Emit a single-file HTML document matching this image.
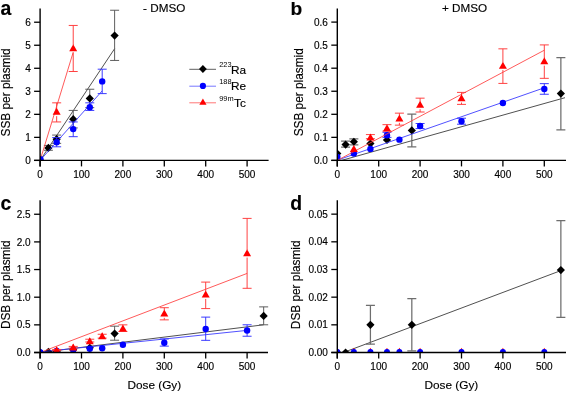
<!DOCTYPE html><html><head><meta charset="utf-8"><style>html,body{margin:0;padding:0;background:#fff;width:567px;height:393px;overflow:hidden}svg{display:block;will-change:transform}</style></head><body><svg width="567" height="393" viewBox="0 0 567 393" font-family='"Liberation Sans", sans-serif' fill="#000"><style>text{stroke:#000;stroke-width:0.15px}</style>
<rect width="567" height="393" fill="#fff"/>
<clipPath id="ca"><rect x="40.1" y="8.6" width="236.50000000000003" height="151.8"/></clipPath>
<g clip-path="url(#ca)">
<line x1="40.10" y1="160.40" x2="114.62" y2="48.70" stroke="#303030" stroke-width="0.85"/>
<line x1="48.38" y1="145.43" x2="48.38" y2="150.27" stroke="#555555" stroke-width="0.95"/><line x1="43.88" y1="145.43" x2="52.88" y2="145.43" stroke="#555555" stroke-width="0.95"/><line x1="43.88" y1="150.27" x2="52.88" y2="150.27" stroke="#555555" stroke-width="0.95"/>
<line x1="56.66" y1="135.07" x2="56.66" y2="143.36" stroke="#555555" stroke-width="0.95"/><line x1="52.16" y1="135.07" x2="61.16" y2="135.07" stroke="#555555" stroke-width="0.95"/><line x1="52.16" y1="143.36" x2="61.16" y2="143.36" stroke="#555555" stroke-width="0.95"/>
<line x1="73.22" y1="110.42" x2="73.22" y2="127.93" stroke="#555555" stroke-width="0.95"/><line x1="68.72" y1="110.42" x2="77.72" y2="110.42" stroke="#555555" stroke-width="0.95"/><line x1="68.72" y1="127.93" x2="77.72" y2="127.93" stroke="#555555" stroke-width="0.95"/>
<line x1="89.78" y1="89.24" x2="89.78" y2="107.66" stroke="#555555" stroke-width="0.95"/><line x1="85.28" y1="89.24" x2="94.28" y2="89.24" stroke="#555555" stroke-width="0.95"/><line x1="85.28" y1="107.66" x2="94.28" y2="107.66" stroke="#555555" stroke-width="0.95"/>
<line x1="114.62" y1="10.24" x2="114.62" y2="60.45" stroke="#555555" stroke-width="0.95"/><line x1="110.12" y1="10.24" x2="119.12" y2="10.24" stroke="#555555" stroke-width="0.95"/><line x1="110.12" y1="60.45" x2="119.12" y2="60.45" stroke="#555555" stroke-width="0.95"/>
<path d="M40.10 156.30L44.20 160.40L40.10 164.50L36.00 160.40Z" fill="#000"/>
<path d="M48.38 143.86L52.48 147.96L48.38 152.06L44.28 147.96Z" fill="#000"/>
<path d="M56.66 135.11L60.76 139.21L56.66 143.31L52.56 139.21Z" fill="#000"/>
<path d="M73.22 115.08L77.32 119.18L73.22 123.28L69.12 119.18Z" fill="#000"/>
<path d="M89.78 94.35L93.88 98.45L89.78 102.55L85.68 98.45Z" fill="#000"/>
<path d="M114.62 31.48L118.72 35.58L114.62 39.68L110.52 35.58Z" fill="#000"/>
</g>
<g clip-path="url(#ca)">
<line x1="40.10" y1="160.40" x2="102.20" y2="90.85" stroke="#3232ff" stroke-width="0.85"/>
<line x1="56.66" y1="137.60" x2="56.66" y2="146.81" stroke="#2f2fff" stroke-width="0.95"/><line x1="52.16" y1="137.60" x2="61.16" y2="137.60" stroke="#2f2fff" stroke-width="0.95"/><line x1="52.16" y1="146.81" x2="61.16" y2="146.81" stroke="#2f2fff" stroke-width="0.95"/>
<line x1="73.22" y1="121.94" x2="73.22" y2="136.68" stroke="#2f2fff" stroke-width="0.95"/><line x1="68.72" y1="121.94" x2="77.72" y2="121.94" stroke="#2f2fff" stroke-width="0.95"/><line x1="68.72" y1="136.68" x2="77.72" y2="136.68" stroke="#2f2fff" stroke-width="0.95"/>
<line x1="89.78" y1="102.83" x2="89.78" y2="110.42" stroke="#2f2fff" stroke-width="0.95"/><line x1="85.28" y1="102.83" x2="94.28" y2="102.83" stroke="#2f2fff" stroke-width="0.95"/><line x1="85.28" y1="110.42" x2="94.28" y2="110.42" stroke="#2f2fff" stroke-width="0.95"/>
<line x1="102.20" y1="69.20" x2="102.20" y2="93.61" stroke="#2f2fff" stroke-width="0.95"/><line x1="97.70" y1="69.20" x2="106.70" y2="69.20" stroke="#2f2fff" stroke-width="0.95"/><line x1="97.70" y1="93.61" x2="106.70" y2="93.61" stroke="#2f2fff" stroke-width="0.95"/>
<circle cx="40.10" cy="160.40" r="3.2" fill="#0000ff"/>
<circle cx="56.66" cy="142.21" r="3.2" fill="#0000ff"/>
<circle cx="73.22" cy="129.08" r="3.2" fill="#0000ff"/>
<circle cx="89.78" cy="107.20" r="3.2" fill="#0000ff"/>
<circle cx="102.20" cy="81.41" r="3.2" fill="#0000ff"/>
</g>
<g clip-path="url(#ca)">
<line x1="40.10" y1="160.40" x2="73.22" y2="52.16" stroke="#ff3c3c" stroke-width="0.85"/>
<line x1="56.66" y1="102.83" x2="56.66" y2="108.58" stroke="#ff3838" stroke-width="0.95"/><line x1="56.66" y1="116.18" x2="56.66" y2="121.94" stroke="#ff3838" stroke-width="0.95"/><line x1="52.16" y1="102.83" x2="61.16" y2="102.83" stroke="#ff3838" stroke-width="0.95"/><line x1="52.16" y1="121.94" x2="61.16" y2="121.94" stroke="#ff3838" stroke-width="0.95"/>
<line x1="73.22" y1="25.44" x2="73.22" y2="45.01" stroke="#ff3838" stroke-width="0.95"/><line x1="73.22" y1="52.61" x2="73.22" y2="71.50" stroke="#ff3838" stroke-width="0.95"/><line x1="68.72" y1="25.44" x2="77.72" y2="25.44" stroke="#ff3838" stroke-width="0.95"/><line x1="68.72" y1="71.50" x2="77.72" y2="71.50" stroke="#ff3838" stroke-width="0.95"/>
<path d="M40.10 156.66L44.10 163.66L36.10 163.66Z" fill="#ff0000"/>
<path d="M56.66 107.83L60.66 114.83L52.66 114.83Z" fill="#ff0000"/>
<path d="M73.22 44.27L77.22 51.27L69.22 51.27Z" fill="#ff0000"/>
</g>
<g clip-path="url(#ca)">
<circle cx="40.10" cy="159.48" r="3.6" fill="#0000ff"/>
</g>
<clipPath id="cb"><rect x="337.3" y="8.6" width="236.7" height="151.8"/></clipPath>
<g clip-path="url(#cb)">
<line x1="337.30" y1="161.60" x2="565.00" y2="97.70" stroke="#303030" stroke-width="0.85"/>
<line x1="345.58" y1="141.04" x2="345.58" y2="147.03" stroke="#6e6e6e" stroke-width="1.25"/><line x1="341.08" y1="141.04" x2="350.08" y2="141.04" stroke="#6e6e6e" stroke-width="1.25"/><line x1="341.08" y1="147.03" x2="350.08" y2="147.03" stroke="#6e6e6e" stroke-width="1.25"/>
<line x1="353.86" y1="138.96" x2="353.86" y2="144.96" stroke="#6e6e6e" stroke-width="1.25"/><line x1="349.36" y1="138.96" x2="358.36" y2="138.96" stroke="#6e6e6e" stroke-width="1.25"/><line x1="349.36" y1="144.96" x2="358.36" y2="144.96" stroke="#6e6e6e" stroke-width="1.25"/>
<line x1="411.82" y1="114.07" x2="411.82" y2="146.89" stroke="#6e6e6e" stroke-width="1.25"/><line x1="407.32" y1="114.07" x2="416.32" y2="114.07" stroke="#6e6e6e" stroke-width="1.25"/><line x1="407.32" y1="146.89" x2="416.32" y2="146.89" stroke="#6e6e6e" stroke-width="1.25"/>
<line x1="560.86" y1="57.60" x2="560.86" y2="129.97" stroke="#6e6e6e" stroke-width="1.25"/><line x1="556.36" y1="57.60" x2="565.36" y2="57.60" stroke="#6e6e6e" stroke-width="1.25"/><line x1="556.36" y1="129.97" x2="565.36" y2="129.97" stroke="#6e6e6e" stroke-width="1.25"/>
<path d="M337.30 149.39L341.40 153.49L337.30 157.59L333.20 153.49Z" fill="#000"/>
<path d="M345.58 140.51L349.68 144.61L345.58 148.71L341.48 144.61Z" fill="#000"/>
<path d="M353.86 137.63L357.96 141.73L353.86 145.83L349.76 141.73Z" fill="#000"/>
<path d="M370.42 139.47L374.52 143.57L370.42 147.67L366.32 143.57Z" fill="#000"/>
<path d="M386.98 135.90L391.08 140.00L386.98 144.10L382.88 140.00Z" fill="#000"/>
<path d="M411.82 126.34L415.92 130.44L411.82 134.53L407.72 130.44Z" fill="#000"/>
<path d="M560.86 89.46L564.96 93.56L560.86 97.66L556.76 93.56Z" fill="#000"/>
</g>
<g clip-path="url(#cb)">
<line x1="337.30" y1="160.17" x2="544.30" y2="87.79" stroke="#3232ff" stroke-width="0.85"/>
<line x1="386.98" y1="132.28" x2="386.98" y2="137.35" stroke="#2f2fff" stroke-width="0.95"/><line x1="382.48" y1="132.28" x2="391.48" y2="132.28" stroke="#2f2fff" stroke-width="0.95"/><line x1="382.48" y1="137.35" x2="391.48" y2="137.35" stroke="#2f2fff" stroke-width="0.95"/>
<line x1="420.10" y1="123.52" x2="420.10" y2="128.59" stroke="#2f2fff" stroke-width="0.95"/><line x1="415.60" y1="123.52" x2="424.60" y2="123.52" stroke="#2f2fff" stroke-width="0.95"/><line x1="415.60" y1="128.59" x2="424.60" y2="128.59" stroke="#2f2fff" stroke-width="0.95"/>
<line x1="461.50" y1="118.22" x2="461.50" y2="124.21" stroke="#2f2fff" stroke-width="0.95"/><line x1="457.00" y1="118.22" x2="466.00" y2="118.22" stroke="#2f2fff" stroke-width="0.95"/><line x1="457.00" y1="124.21" x2="466.00" y2="124.21" stroke="#2f2fff" stroke-width="0.95"/>
<line x1="544.30" y1="83.64" x2="544.30" y2="94.25" stroke="#2f2fff" stroke-width="0.95"/><line x1="539.80" y1="83.64" x2="548.80" y2="83.64" stroke="#2f2fff" stroke-width="0.95"/><line x1="539.80" y1="94.25" x2="548.80" y2="94.25" stroke="#2f2fff" stroke-width="0.95"/>
<circle cx="337.30" cy="156.94" r="3.2" fill="#0000ff"/>
<circle cx="353.86" cy="153.60" r="3.2" fill="#0000ff"/>
<circle cx="370.42" cy="148.88" r="3.2" fill="#0000ff"/>
<circle cx="386.98" cy="135.28" r="3.2" fill="#0000ff"/>
<circle cx="399.40" cy="139.66" r="3.2" fill="#0000ff"/>
<circle cx="420.10" cy="126.06" r="3.2" fill="#0000ff"/>
<circle cx="461.50" cy="121.22" r="3.2" fill="#0000ff"/>
<circle cx="502.90" cy="103.01" r="3.2" fill="#0000ff"/>
<circle cx="544.30" cy="88.95" r="3.2" fill="#0000ff"/>
</g>
<g clip-path="url(#cb)">
<line x1="337.30" y1="160.40" x2="544.30" y2="50.22" stroke="#ff3c3c" stroke-width="0.85"/>
<line x1="370.42" y1="134.58" x2="370.42" y2="134.35" stroke="#ff3838" stroke-width="0.95"/><line x1="365.92" y1="134.58" x2="374.92" y2="134.58" stroke="#ff3838" stroke-width="0.95"/><line x1="365.92" y1="138.73" x2="374.92" y2="138.73" stroke="#ff3838" stroke-width="0.95"/>
<line x1="386.98" y1="124.67" x2="386.98" y2="124.90" stroke="#ff3838" stroke-width="0.95"/><line x1="382.48" y1="124.67" x2="391.48" y2="124.67" stroke="#ff3838" stroke-width="0.95"/><line x1="382.48" y1="131.13" x2="391.48" y2="131.13" stroke="#ff3838" stroke-width="0.95"/>
<line x1="399.40" y1="113.15" x2="399.40" y2="115.22" stroke="#ff3838" stroke-width="0.95"/><line x1="399.40" y1="122.82" x2="399.40" y2="125.13" stroke="#ff3838" stroke-width="0.95"/><line x1="394.90" y1="113.15" x2="403.90" y2="113.15" stroke="#ff3838" stroke-width="0.95"/><line x1="394.90" y1="125.13" x2="403.90" y2="125.13" stroke="#ff3838" stroke-width="0.95"/>
<line x1="420.10" y1="98.16" x2="420.10" y2="101.62" stroke="#ff3838" stroke-width="0.95"/><line x1="420.10" y1="109.22" x2="420.10" y2="112.00" stroke="#ff3838" stroke-width="0.95"/><line x1="415.60" y1="98.16" x2="424.60" y2="98.16" stroke="#ff3838" stroke-width="0.95"/><line x1="415.60" y1="112.00" x2="424.60" y2="112.00" stroke="#ff3838" stroke-width="0.95"/>
<line x1="461.50" y1="92.40" x2="461.50" y2="94.93" stroke="#ff3838" stroke-width="0.95"/><line x1="461.50" y1="102.53" x2="461.50" y2="104.39" stroke="#ff3838" stroke-width="0.95"/><line x1="457.00" y1="92.40" x2="466.00" y2="92.40" stroke="#ff3838" stroke-width="0.95"/><line x1="457.00" y1="104.39" x2="466.00" y2="104.39" stroke="#ff3838" stroke-width="0.95"/>
<line x1="502.90" y1="48.84" x2="502.90" y2="62.43" stroke="#ff3838" stroke-width="0.95"/><line x1="502.90" y1="70.03" x2="502.90" y2="83.41" stroke="#ff3838" stroke-width="0.95"/><line x1="498.40" y1="48.84" x2="507.40" y2="48.84" stroke="#ff3838" stroke-width="0.95"/><line x1="498.40" y1="83.41" x2="507.40" y2="83.41" stroke="#ff3838" stroke-width="0.95"/>
<line x1="544.30" y1="44.92" x2="544.30" y2="58.05" stroke="#ff3838" stroke-width="0.95"/><line x1="544.30" y1="65.65" x2="544.30" y2="78.34" stroke="#ff3838" stroke-width="0.95"/><line x1="539.80" y1="44.92" x2="548.80" y2="44.92" stroke="#ff3838" stroke-width="0.95"/><line x1="539.80" y1="78.34" x2="548.80" y2="78.34" stroke="#ff3838" stroke-width="0.95"/>
<path d="M353.86 144.90L357.86 151.90L349.86 151.90Z" fill="#ff0000"/>
<path d="M370.42 133.60L374.42 140.60L366.42 140.60Z" fill="#ff0000"/>
<path d="M386.98 124.15L390.98 131.15L382.98 131.15Z" fill="#ff0000"/>
<path d="M399.40 114.47L403.40 121.47L395.40 121.47Z" fill="#ff0000"/>
<path d="M420.10 100.87L424.10 107.87L416.10 107.87Z" fill="#ff0000"/>
<path d="M461.50 94.19L465.50 101.19L457.50 101.19Z" fill="#ff0000"/>
<path d="M502.90 61.69L506.90 68.69L498.90 68.69Z" fill="#ff0000"/>
<path d="M544.30 57.31L548.30 64.31L540.30 64.31Z" fill="#ff0000"/>
</g>
<clipPath id="cc"><rect x="40.1" y="200.3" width="235.9" height="152.2"/></clipPath>
<g clip-path="url(#cc)">
<line x1="40.10" y1="352.50" x2="263.66" y2="324.79" stroke="#303030" stroke-width="0.85"/>
<line x1="114.62" y1="326.18" x2="114.62" y2="340.22" stroke="#555555" stroke-width="0.95"/><line x1="110.12" y1="326.18" x2="119.12" y2="326.18" stroke="#555555" stroke-width="0.95"/><line x1="110.12" y1="340.22" x2="119.12" y2="340.22" stroke="#555555" stroke-width="0.95"/>
<line x1="263.66" y1="306.88" x2="263.66" y2="324.79" stroke="#555555" stroke-width="0.95"/><line x1="259.16" y1="306.88" x2="268.16" y2="306.88" stroke="#555555" stroke-width="0.95"/><line x1="259.16" y1="324.79" x2="268.16" y2="324.79" stroke="#555555" stroke-width="0.95"/>
<path d="M40.10 348.40L44.20 352.50L40.10 356.60L36.00 352.50Z" fill="#000"/>
<path d="M48.38 347.85L52.48 351.95L48.38 356.05L44.28 351.95Z" fill="#000"/>
<path d="M56.66 347.29L60.76 351.39L56.66 355.49L52.56 351.39Z" fill="#000"/>
<path d="M73.22 345.63L77.32 349.74L73.22 353.84L69.12 349.74Z" fill="#000"/>
<path d="M89.78 343.70L93.88 347.80L89.78 351.90L85.68 347.80Z" fill="#000"/>
<path d="M114.62 329.43L118.72 333.53L114.62 337.63L110.52 333.53Z" fill="#000"/>
<path d="M263.66 311.85L267.76 315.95L263.66 320.05L259.56 315.95Z" fill="#000"/>
</g>
<g clip-path="url(#cc)">
<line x1="40.10" y1="351.95" x2="247.10" y2="330.38" stroke="#3232ff" stroke-width="0.85"/>
<line x1="164.30" y1="338.95" x2="164.30" y2="346.14" stroke="#2f2fff" stroke-width="0.95"/><line x1="159.80" y1="338.95" x2="168.80" y2="338.95" stroke="#2f2fff" stroke-width="0.95"/><line x1="159.80" y1="346.14" x2="168.80" y2="346.14" stroke="#2f2fff" stroke-width="0.95"/>
<line x1="205.70" y1="317.11" x2="205.70" y2="340.33" stroke="#2f2fff" stroke-width="0.95"/><line x1="201.20" y1="317.11" x2="210.20" y2="317.11" stroke="#2f2fff" stroke-width="0.95"/><line x1="201.20" y1="340.33" x2="210.20" y2="340.33" stroke="#2f2fff" stroke-width="0.95"/>
<line x1="247.10" y1="324.79" x2="247.10" y2="336.24" stroke="#2f2fff" stroke-width="0.95"/><line x1="242.60" y1="324.79" x2="251.60" y2="324.79" stroke="#2f2fff" stroke-width="0.95"/><line x1="242.60" y1="336.24" x2="251.60" y2="336.24" stroke="#2f2fff" stroke-width="0.95"/>
<circle cx="40.10" cy="352.50" r="3.2" fill="#0000ff"/>
<circle cx="56.66" cy="350.84" r="3.2" fill="#0000ff"/>
<circle cx="73.22" cy="349.74" r="3.2" fill="#0000ff"/>
<circle cx="89.78" cy="348.74" r="3.2" fill="#0000ff"/>
<circle cx="102.20" cy="348.24" r="3.2" fill="#0000ff"/>
<circle cx="122.90" cy="344.76" r="3.2" fill="#0000ff"/>
<circle cx="164.30" cy="342.82" r="3.2" fill="#0000ff"/>
<circle cx="205.70" cy="329.00" r="3.2" fill="#0000ff"/>
<circle cx="247.10" cy="330.49" r="3.2" fill="#0000ff"/>
</g>
<g clip-path="url(#cc)">
<line x1="40.10" y1="352.50" x2="247.10" y2="273.42" stroke="#ff3c3c" stroke-width="0.85"/>
<line x1="56.66" y1="349.46" x2="56.66" y2="347.01" stroke="#ff3838" stroke-width="0.95"/><line x1="52.16" y1="349.46" x2="61.16" y2="349.46" stroke="#ff3838" stroke-width="0.95"/><line x1="52.16" y1="350.56" x2="61.16" y2="350.56" stroke="#ff3838" stroke-width="0.95"/>
<line x1="73.22" y1="346.42" x2="73.22" y2="344.25" stroke="#ff3838" stroke-width="0.95"/><line x1="68.72" y1="346.42" x2="77.72" y2="346.42" stroke="#ff3838" stroke-width="0.95"/><line x1="68.72" y1="348.08" x2="77.72" y2="348.08" stroke="#ff3838" stroke-width="0.95"/>
<line x1="89.78" y1="339.23" x2="89.78" y2="337.89" stroke="#ff3838" stroke-width="0.95"/><line x1="85.28" y1="339.23" x2="94.28" y2="339.23" stroke="#ff3838" stroke-width="0.95"/><line x1="85.28" y1="341.99" x2="94.28" y2="341.99" stroke="#ff3838" stroke-width="0.95"/>
<line x1="102.20" y1="334.25" x2="102.20" y2="332.91" stroke="#ff3838" stroke-width="0.95"/><line x1="97.70" y1="334.25" x2="106.70" y2="334.25" stroke="#ff3838" stroke-width="0.95"/><line x1="97.70" y1="338.12" x2="106.70" y2="338.12" stroke="#ff3838" stroke-width="0.95"/>
<line x1="122.90" y1="324.85" x2="122.90" y2="325.17" stroke="#ff3838" stroke-width="0.95"/><line x1="118.40" y1="324.85" x2="127.40" y2="324.85" stroke="#ff3838" stroke-width="0.95"/><line x1="118.40" y1="331.49" x2="127.40" y2="331.49" stroke="#ff3838" stroke-width="0.95"/>
<line x1="164.30" y1="307.71" x2="164.30" y2="310.24" stroke="#ff3838" stroke-width="0.95"/><line x1="164.30" y1="317.84" x2="164.30" y2="319.87" stroke="#ff3838" stroke-width="0.95"/><line x1="159.80" y1="307.71" x2="168.80" y2="307.71" stroke="#ff3838" stroke-width="0.95"/><line x1="159.80" y1="319.87" x2="168.80" y2="319.87" stroke="#ff3838" stroke-width="0.95"/>
<line x1="205.70" y1="282.10" x2="205.70" y2="291.32" stroke="#ff3838" stroke-width="0.95"/><line x1="205.70" y1="298.92" x2="205.70" y2="308.59" stroke="#ff3838" stroke-width="0.95"/><line x1="201.20" y1="282.10" x2="210.20" y2="282.10" stroke="#ff3838" stroke-width="0.95"/><line x1="201.20" y1="308.59" x2="210.20" y2="308.59" stroke="#ff3838" stroke-width="0.95"/>
<line x1="247.10" y1="218.40" x2="247.10" y2="249.96" stroke="#ff3838" stroke-width="0.95"/><line x1="247.10" y1="257.56" x2="247.10" y2="288.30" stroke="#ff3838" stroke-width="0.95"/><line x1="242.60" y1="218.40" x2="251.60" y2="218.40" stroke="#ff3838" stroke-width="0.95"/><line x1="242.60" y1="288.30" x2="251.60" y2="288.30" stroke="#ff3838" stroke-width="0.95"/>
<path d="M40.10 348.75L44.10 355.75L36.10 355.75Z" fill="#ff0000"/>
<path d="M56.66 346.27L60.66 353.27L52.66 353.27Z" fill="#ff0000"/>
<path d="M73.22 343.50L77.22 350.50L69.22 350.50Z" fill="#ff0000"/>
<path d="M89.78 337.14L93.78 344.14L85.78 344.14Z" fill="#ff0000"/>
<path d="M102.20 332.17L106.20 339.17L98.20 339.17Z" fill="#ff0000"/>
<path d="M122.90 324.42L126.90 331.42L118.90 331.42Z" fill="#ff0000"/>
<path d="M164.30 309.49L168.30 316.49L160.30 316.49Z" fill="#ff0000"/>
<path d="M205.70 290.58L209.70 297.58L201.70 297.58Z" fill="#ff0000"/>
<path d="M247.10 249.22L251.10 256.22L243.10 256.22Z" fill="#ff0000"/>
</g>
<g clip-path="url(#cc)">
<circle cx="40.10" cy="352.50" r="3.3" fill="#0000ff"/>
</g>
<clipPath id="cd"><rect x="337.3" y="200.3" width="236.7" height="152.2"/></clipPath>
<g clip-path="url(#cd)">
<line x1="337.30" y1="354.80" x2="560.86" y2="270.60" stroke="#303030" stroke-width="0.85"/>
<line x1="370.42" y1="305.46" x2="370.42" y2="344.20" stroke="#6e6e6e" stroke-width="1.25"/><line x1="365.92" y1="305.46" x2="374.92" y2="305.46" stroke="#6e6e6e" stroke-width="1.25"/><line x1="365.92" y1="344.20" x2="374.92" y2="344.20" stroke="#6e6e6e" stroke-width="1.25"/>
<line x1="411.82" y1="298.54" x2="411.82" y2="350.84" stroke="#6e6e6e" stroke-width="1.25"/><line x1="407.32" y1="298.54" x2="416.32" y2="298.54" stroke="#6e6e6e" stroke-width="1.25"/><line x1="407.32" y1="350.84" x2="416.32" y2="350.84" stroke="#6e6e6e" stroke-width="1.25"/>
<line x1="560.86" y1="220.51" x2="560.86" y2="317.36" stroke="#6e6e6e" stroke-width="1.25"/><line x1="556.36" y1="220.51" x2="565.36" y2="220.51" stroke="#6e6e6e" stroke-width="1.25"/><line x1="556.36" y1="317.36" x2="565.36" y2="317.36" stroke="#6e6e6e" stroke-width="1.25"/>
<path d="M337.30 348.40L341.40 352.50L337.30 356.60L333.20 352.50Z" fill="#000"/>
<path d="M345.58 348.40L349.68 352.50L345.58 356.60L341.48 352.50Z" fill="#000"/>
<path d="M370.42 320.73L374.52 324.83L370.42 328.93L366.32 324.83Z" fill="#000"/>
<path d="M411.82 320.73L415.92 324.83L411.82 328.93L407.72 324.83Z" fill="#000"/>
<path d="M560.86 265.94L564.96 270.04L560.86 274.14L556.76 270.04Z" fill="#000"/>
</g>
<g clip-path="url(#cd)">
<path d="M337.30 347.86L341.30 354.86L333.30 354.86Z" fill="#ff0000"/>
<path d="M353.86 347.86L357.86 354.86L349.86 354.86Z" fill="#ff0000"/>
<path d="M370.42 347.86L374.42 354.86L366.42 354.86Z" fill="#ff0000"/>
<path d="M386.98 347.86L390.98 354.86L382.98 354.86Z" fill="#ff0000"/>
<path d="M399.40 347.86L403.40 354.86L395.40 354.86Z" fill="#ff0000"/>
<path d="M420.10 347.86L424.10 354.86L416.10 354.86Z" fill="#ff0000"/>
<path d="M461.50 347.86L465.50 354.86L457.50 354.86Z" fill="#ff0000"/>
<path d="M502.90 347.86L506.90 354.86L498.90 354.86Z" fill="#ff0000"/>
<path d="M544.30 347.86L548.30 354.86L540.30 354.86Z" fill="#ff0000"/>
</g>
<g clip-path="url(#cd)">
<circle cx="337.30" cy="352.10" r="3.0" fill="#0000ff"/>
<circle cx="353.86" cy="352.10" r="3.0" fill="#0000ff"/>
<circle cx="370.42" cy="352.10" r="3.0" fill="#0000ff"/>
<circle cx="386.98" cy="352.10" r="3.0" fill="#0000ff"/>
<circle cx="399.40" cy="352.10" r="3.0" fill="#0000ff"/>
<circle cx="420.10" cy="352.10" r="3.0" fill="#0000ff"/>
<circle cx="461.50" cy="352.10" r="3.0" fill="#0000ff"/>
<circle cx="502.90" cy="352.10" r="3.0" fill="#0000ff"/>
<circle cx="544.30" cy="352.10" r="3.0" fill="#0000ff"/>
</g>
<line x1="34.1" y1="160.4" x2="268.6" y2="160.4" stroke="#000" stroke-width="1.3"/>
<line x1="40.1" y1="8.6" x2="40.1" y2="166.4" stroke="#000" stroke-width="1.4"/>
<line x1="34.1" y1="160.40" x2="40.1" y2="160.40" stroke="#000" stroke-width="1.3"/>
<text x="30.70" y="164.00" text-anchor="end" font-size="10">0</text>
<line x1="34.1" y1="137.37" x2="40.1" y2="137.37" stroke="#000" stroke-width="1.3"/>
<text x="30.70" y="140.97" text-anchor="end" font-size="10">1</text>
<line x1="34.1" y1="114.34" x2="40.1" y2="114.34" stroke="#000" stroke-width="1.3"/>
<text x="30.70" y="117.94" text-anchor="end" font-size="10">2</text>
<line x1="34.1" y1="91.31" x2="40.1" y2="91.31" stroke="#000" stroke-width="1.3"/>
<text x="30.70" y="94.91" text-anchor="end" font-size="10">3</text>
<line x1="34.1" y1="68.28" x2="40.1" y2="68.28" stroke="#000" stroke-width="1.3"/>
<text x="30.70" y="71.88" text-anchor="end" font-size="10">4</text>
<line x1="34.1" y1="45.25" x2="40.1" y2="45.25" stroke="#000" stroke-width="1.3"/>
<text x="30.70" y="48.85" text-anchor="end" font-size="10">5</text>
<line x1="34.1" y1="22.22" x2="40.1" y2="22.22" stroke="#000" stroke-width="1.3"/>
<text x="30.70" y="25.82" text-anchor="end" font-size="10">6</text>
<line x1="40.10" y1="160.4" x2="40.10" y2="166.4" stroke="#000" stroke-width="1.3"/>
<text x="40.10" y="177.9" text-anchor="middle" font-size="10">0</text>
<line x1="81.50" y1="160.4" x2="81.50" y2="166.4" stroke="#000" stroke-width="1.3"/>
<text x="81.50" y="177.9" text-anchor="middle" font-size="10">100</text>
<line x1="122.90" y1="160.4" x2="122.90" y2="166.4" stroke="#000" stroke-width="1.3"/>
<text x="122.90" y="177.9" text-anchor="middle" font-size="10">200</text>
<line x1="164.30" y1="160.4" x2="164.30" y2="166.4" stroke="#000" stroke-width="1.3"/>
<text x="164.30" y="177.9" text-anchor="middle" font-size="10">300</text>
<line x1="205.70" y1="160.4" x2="205.70" y2="166.4" stroke="#000" stroke-width="1.3"/>
<text x="205.70" y="177.9" text-anchor="middle" font-size="10">400</text>
<line x1="247.10" y1="160.4" x2="247.10" y2="166.4" stroke="#000" stroke-width="1.3"/>
<text x="247.10" y="177.9" text-anchor="middle" font-size="10">500</text>
<line x1="331.3" y1="160.4" x2="566.0" y2="160.4" stroke="#000" stroke-width="1.3"/>
<line x1="337.3" y1="8.6" x2="337.3" y2="166.4" stroke="#000" stroke-width="1.4"/>
<line x1="331.3" y1="160.40" x2="337.3" y2="160.40" stroke="#000" stroke-width="1.3"/>
<text x="327.90" y="164.00" text-anchor="end" font-size="10">0.0</text>
<line x1="331.3" y1="137.35" x2="337.3" y2="137.35" stroke="#000" stroke-width="1.3"/>
<text x="327.90" y="140.95" text-anchor="end" font-size="10">0.1</text>
<line x1="331.3" y1="114.30" x2="337.3" y2="114.30" stroke="#000" stroke-width="1.3"/>
<text x="327.90" y="117.90" text-anchor="end" font-size="10">0.2</text>
<line x1="331.3" y1="91.25" x2="337.3" y2="91.25" stroke="#000" stroke-width="1.3"/>
<text x="327.90" y="94.85" text-anchor="end" font-size="10">0.3</text>
<line x1="331.3" y1="68.20" x2="337.3" y2="68.20" stroke="#000" stroke-width="1.3"/>
<text x="327.90" y="71.80" text-anchor="end" font-size="10">0.4</text>
<line x1="331.3" y1="45.15" x2="337.3" y2="45.15" stroke="#000" stroke-width="1.3"/>
<text x="327.90" y="48.75" text-anchor="end" font-size="10">0.5</text>
<line x1="331.3" y1="22.10" x2="337.3" y2="22.10" stroke="#000" stroke-width="1.3"/>
<text x="327.90" y="25.70" text-anchor="end" font-size="10">0.6</text>
<line x1="337.30" y1="160.4" x2="337.30" y2="166.4" stroke="#000" stroke-width="1.3"/>
<text x="337.30" y="177.9" text-anchor="middle" font-size="10">0</text>
<line x1="378.70" y1="160.4" x2="378.70" y2="166.4" stroke="#000" stroke-width="1.3"/>
<text x="378.70" y="177.9" text-anchor="middle" font-size="10">100</text>
<line x1="420.10" y1="160.4" x2="420.10" y2="166.4" stroke="#000" stroke-width="1.3"/>
<text x="420.10" y="177.9" text-anchor="middle" font-size="10">200</text>
<line x1="461.50" y1="160.4" x2="461.50" y2="166.4" stroke="#000" stroke-width="1.3"/>
<text x="461.50" y="177.9" text-anchor="middle" font-size="10">300</text>
<line x1="502.90" y1="160.4" x2="502.90" y2="166.4" stroke="#000" stroke-width="1.3"/>
<text x="502.90" y="177.9" text-anchor="middle" font-size="10">400</text>
<line x1="544.30" y1="160.4" x2="544.30" y2="166.4" stroke="#000" stroke-width="1.3"/>
<text x="544.30" y="177.9" text-anchor="middle" font-size="10">500</text>
<line x1="34.1" y1="352.5" x2="268.0" y2="352.5" stroke="#000" stroke-width="1.3"/>
<line x1="40.1" y1="200.3" x2="40.1" y2="358.5" stroke="#000" stroke-width="1.4"/>
<line x1="34.1" y1="352.50" x2="40.1" y2="352.50" stroke="#000" stroke-width="1.3"/>
<text x="30.70" y="356.10" text-anchor="end" font-size="10">0.0</text>
<line x1="34.1" y1="324.85" x2="40.1" y2="324.85" stroke="#000" stroke-width="1.3"/>
<text x="30.70" y="328.45" text-anchor="end" font-size="10">0.5</text>
<line x1="34.1" y1="297.20" x2="40.1" y2="297.20" stroke="#000" stroke-width="1.3"/>
<text x="30.70" y="300.80" text-anchor="end" font-size="10">1.0</text>
<line x1="34.1" y1="269.55" x2="40.1" y2="269.55" stroke="#000" stroke-width="1.3"/>
<text x="30.70" y="273.15" text-anchor="end" font-size="10">1.5</text>
<line x1="34.1" y1="241.90" x2="40.1" y2="241.90" stroke="#000" stroke-width="1.3"/>
<text x="30.70" y="245.50" text-anchor="end" font-size="10">2.0</text>
<line x1="34.1" y1="214.25" x2="40.1" y2="214.25" stroke="#000" stroke-width="1.3"/>
<text x="30.70" y="217.85" text-anchor="end" font-size="10">2.5</text>
<line x1="40.10" y1="352.5" x2="40.10" y2="358.5" stroke="#000" stroke-width="1.3"/>
<text x="40.10" y="369.7" text-anchor="middle" font-size="10">0</text>
<line x1="81.50" y1="352.5" x2="81.50" y2="358.5" stroke="#000" stroke-width="1.3"/>
<text x="81.50" y="369.7" text-anchor="middle" font-size="10">100</text>
<line x1="122.90" y1="352.5" x2="122.90" y2="358.5" stroke="#000" stroke-width="1.3"/>
<text x="122.90" y="369.7" text-anchor="middle" font-size="10">200</text>
<line x1="164.30" y1="352.5" x2="164.30" y2="358.5" stroke="#000" stroke-width="1.3"/>
<text x="164.30" y="369.7" text-anchor="middle" font-size="10">300</text>
<line x1="205.70" y1="352.5" x2="205.70" y2="358.5" stroke="#000" stroke-width="1.3"/>
<text x="205.70" y="369.7" text-anchor="middle" font-size="10">400</text>
<line x1="247.10" y1="352.5" x2="247.10" y2="358.5" stroke="#000" stroke-width="1.3"/>
<text x="247.10" y="369.7" text-anchor="middle" font-size="10">500</text>
<line x1="331.3" y1="352.5" x2="566.0" y2="352.5" stroke="#000" stroke-width="1.3"/>
<line x1="337.3" y1="200.3" x2="337.3" y2="358.5" stroke="#000" stroke-width="1.4"/>
<line x1="331.3" y1="352.50" x2="337.3" y2="352.50" stroke="#000" stroke-width="1.3"/>
<text x="327.90" y="356.10" text-anchor="end" font-size="10">0.00</text>
<line x1="331.3" y1="324.83" x2="337.3" y2="324.83" stroke="#000" stroke-width="1.3"/>
<text x="327.90" y="328.43" text-anchor="end" font-size="10">0.01</text>
<line x1="331.3" y1="297.16" x2="337.3" y2="297.16" stroke="#000" stroke-width="1.3"/>
<text x="327.90" y="300.76" text-anchor="end" font-size="10">0.02</text>
<line x1="331.3" y1="269.49" x2="337.3" y2="269.49" stroke="#000" stroke-width="1.3"/>
<text x="327.90" y="273.09" text-anchor="end" font-size="10">0.03</text>
<line x1="331.3" y1="241.82" x2="337.3" y2="241.82" stroke="#000" stroke-width="1.3"/>
<text x="327.90" y="245.42" text-anchor="end" font-size="10">0.04</text>
<line x1="331.3" y1="214.15" x2="337.3" y2="214.15" stroke="#000" stroke-width="1.3"/>
<text x="327.90" y="217.75" text-anchor="end" font-size="10">0.05</text>
<line x1="337.30" y1="352.5" x2="337.30" y2="358.5" stroke="#000" stroke-width="1.3"/>
<text x="337.30" y="369.7" text-anchor="middle" font-size="10">0</text>
<line x1="378.70" y1="352.5" x2="378.70" y2="358.5" stroke="#000" stroke-width="1.3"/>
<text x="378.70" y="369.7" text-anchor="middle" font-size="10">100</text>
<line x1="420.10" y1="352.5" x2="420.10" y2="358.5" stroke="#000" stroke-width="1.3"/>
<text x="420.10" y="369.7" text-anchor="middle" font-size="10">200</text>
<line x1="461.50" y1="352.5" x2="461.50" y2="358.5" stroke="#000" stroke-width="1.3"/>
<text x="461.50" y="369.7" text-anchor="middle" font-size="10">300</text>
<line x1="502.90" y1="352.5" x2="502.90" y2="358.5" stroke="#000" stroke-width="1.3"/>
<text x="502.90" y="369.7" text-anchor="middle" font-size="10">400</text>
<line x1="544.30" y1="352.5" x2="544.30" y2="358.5" stroke="#000" stroke-width="1.3"/>
<text x="544.30" y="369.7" text-anchor="middle" font-size="10">500</text>
<text x="0.5" y="15" font-size="19.4" font-weight="bold">a</text>
<text x="290.5" y="15" font-size="19.2" font-weight="bold">b</text>
<text x="0.5" y="209.8" font-size="19.4" font-weight="bold">c</text>
<text x="290.3" y="209.5" font-size="19.4" font-weight="bold">d</text>
<text x="143.1" y="11.9" font-size="11.7">- DMSO</text>
<text x="442.0" y="11.9" font-size="11.7">+ DMSO</text>
<text transform="translate(10.2 92.4) rotate(-90) scale(0.955 1)" text-anchor="middle" font-size="12.4">SSB per plasmid</text>
<text transform="translate(303.3 92.3) rotate(-90) scale(0.955 1)" text-anchor="middle" font-size="12.4">SSB per plasmid</text>
<text transform="translate(9.9 284.7) rotate(-90) scale(0.955 1)" text-anchor="middle" font-size="12.4">DSB per plasmid</text>
<text transform="translate(300.3 284.8) rotate(-90) scale(0.955 1)" text-anchor="middle" font-size="12.4">DSB per plasmid</text>
<text x="154.3" y="388.6" text-anchor="middle" font-size="11.8">Dose (Gy)</text>
<text x="451.4" y="388.6" text-anchor="middle" font-size="11.8">Dose (Gy)</text>
<line x1="189.3" y1="69.3" x2="216" y2="69.3" stroke="#2a2a2a" stroke-width="0.75"/>
<path d="M202.90 65.10L206.80 69.00L202.90 72.90L199.00 69.00Z" fill="#000"/>
<text x="219.2" y="67.0" font-size="7.4" style="stroke-width:0px">223</text>
<text x="231" y="73.5" font-size="11.8">Ra</text>
<line x1="189.3" y1="86.2" x2="216" y2="86.2" stroke="#4a4aff" stroke-width="0.75"/>
<circle cx="202.90" cy="85.90" r="3.1" fill="#0000ff"/>
<text x="219.2" y="83.9" font-size="7.4" style="stroke-width:0px">188</text>
<text x="231" y="90.4" font-size="11.8">Re</text>
<line x1="189.3" y1="102.8" x2="216" y2="102.8" stroke="#ff4a4a" stroke-width="0.75"/>
<path d="M202.90 98.48L206.50 104.68L199.30 104.68Z" fill="#ff0000"/>
<text x="219.2" y="100.5" font-size="7.4" style="stroke-width:0px">99m</text>
<text x="234" y="107.0" font-size="11.8">Tc</text>
</svg></body></html>
